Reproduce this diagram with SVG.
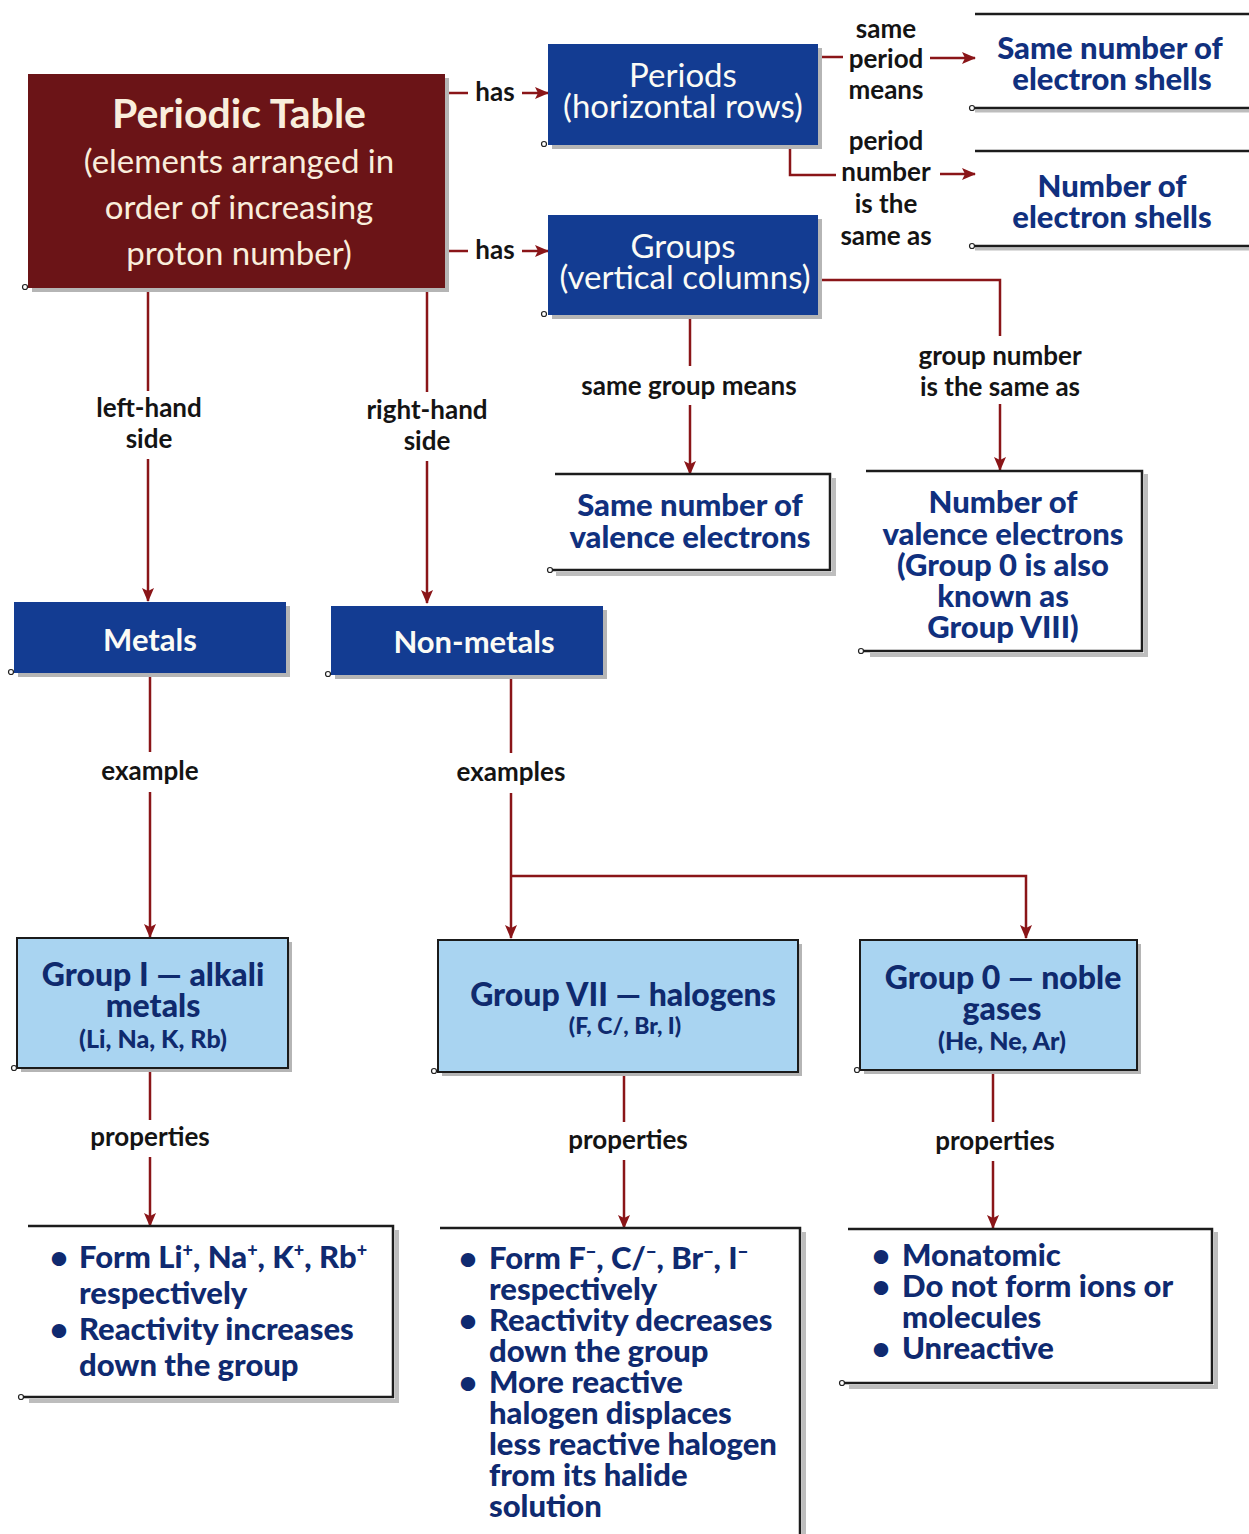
<svg xmlns="http://www.w3.org/2000/svg" width="1249" height="1534" viewBox="0 0 1249 1534">
<defs>
<marker id="arr" markerWidth="14" markerHeight="12" refX="13" refY="6" orient="auto" markerUnits="userSpaceOnUse">
<path d="M0,0 L14,6 L0,12 L3,6 z" fill="#8a1518"/>
</marker>
<style>
.conn{stroke:#8a1518;stroke-width:2.5;fill:none}
.lbl{font-family:Lato,"Open Sans",sans-serif;font-weight:bold;font-size:26px;fill:#141414;text-anchor:middle}
.pt{fill:#6b1417}
.nav{fill:#133c92}
.lb{fill:#a9d4f1;stroke:#1b1b1b;stroke-width:2}
.shadow{fill:#b5b5b5}
.wbl{fill:none;stroke:#1c1c1c;stroke-width:2.5}
.wt{font-family:Lato,"Open Sans",sans-serif;font-weight:900;font-size:31px;fill:#10307e;text-anchor:middle}
.gt{font-family:Lato,"Open Sans",sans-serif;font-weight:900;font-size:32px;fill:#0f2a6e;text-anchor:middle}
.bt{font-family:Lato,"Open Sans",sans-serif;font-weight:900;font-size:31px;fill:#0f2a70}
.ct{font-family:Lato,"Open Sans",sans-serif;font-size:33px;fill:#fbfbf5;text-anchor:middle}
.dot{fill:#fff;stroke:#222;stroke-width:1.2}
</style>
</defs>
<rect width="1249" height="1534" fill="#ffffff"/>

<g id="connectors">
<line class="conn" x1="445" y1="93" x2="468" y2="93"/>
<line class="conn" x1="522" y1="93" x2="548" y2="93" marker-end="url(#arr)"/>
<line class="conn" x1="445" y1="251" x2="468" y2="251"/>
<line class="conn" x1="522" y1="251" x2="548" y2="251" marker-end="url(#arr)"/>
<line class="conn" x1="818" y1="57" x2="843" y2="57"/>
<line class="conn" x1="930" y1="58" x2="975" y2="58" marker-end="url(#arr)"/>
<path class="conn" d="M790,145 L790,175 L836,175"/>
<line class="conn" x1="940" y1="174" x2="975" y2="174" marker-end="url(#arr)"/>
<path class="conn" d="M818,280 L1000,280 L1000,336"/>
<line class="conn" x1="1000" y1="404" x2="1000" y2="470" marker-end="url(#arr)"/>
<line class="conn" x1="690" y1="315" x2="690" y2="366"/>
<line class="conn" x1="690" y1="405" x2="690" y2="474" marker-end="url(#arr)"/>
<line class="conn" x1="148" y1="288" x2="148" y2="391"/>
<line class="conn" x1="148" y1="459" x2="148" y2="601" marker-end="url(#arr)"/>
<line class="conn" x1="427" y1="288" x2="427" y2="392"/>
<line class="conn" x1="427" y1="461" x2="427" y2="603" marker-end="url(#arr)"/>
<line class="conn" x1="150" y1="673" x2="150" y2="752"/>
<line class="conn" x1="150" y1="792" x2="150" y2="937" marker-end="url(#arr)"/>
<line class="conn" x1="511" y1="675" x2="511" y2="753"/>
<line class="conn" x1="511" y1="793" x2="511" y2="938" marker-end="url(#arr)"/>
<path class="conn" d="M511,876 L1026,876 L1026,938" marker-end="url(#arr)"/>
<line class="conn" x1="150" y1="1068" x2="150" y2="1120"/>
<line class="conn" x1="150" y1="1157" x2="150" y2="1226" marker-end="url(#arr)"/>
<line class="conn" x1="624" y1="1072" x2="624" y2="1122"/>
<line class="conn" x1="624" y1="1160" x2="624" y2="1228" marker-end="url(#arr)"/>
<line class="conn" x1="993" y1="1070" x2="993" y2="1122"/>
<line class="conn" x1="993" y1="1161" x2="993" y2="1228" marker-end="url(#arr)"/>
</g>

<g id="labels">
<text class="lbl" x="495" y="101">has</text>
<text class="lbl" x="495" y="259">has</text>
<text class="lbl"><tspan x="886" y="38">same</tspan><tspan x="886" y="68">period</tspan><tspan x="886" y="99">means</tspan></text>
<text class="lbl"><tspan x="886" y="150">period</tspan><tspan x="886" y="181">number</tspan><tspan x="886" y="213">is the</tspan><tspan x="886" y="245">same as</tspan></text>
<text class="lbl"><tspan x="1000" y="365">group number</tspan><tspan x="1000" y="396">is the same as</tspan></text>
<text class="lbl" x="689" y="395">same group means</text>
<text class="lbl"><tspan x="149" y="417">left-hand</tspan><tspan x="149" y="448">side</tspan></text>
<text class="lbl"><tspan x="427" y="419">right-hand</tspan><tspan x="427" y="450">side</tspan></text>
<text class="lbl" x="150" y="780">example</text>
<text class="lbl" x="511" y="781">examples</text>
<text class="lbl" x="150" y="1146">properties</text>
<text class="lbl" x="628" y="1149">properties</text>
<text class="lbl" x="995" y="1150">properties</text>
</g>

<g id="periodic-table">
<rect class="shadow" x="32" y="78" width="417" height="214"/>
<rect class="pt" x="28" y="74" width="417" height="214"/>
<text font-family="Lato,'Open Sans',sans-serif" font-size="33" fill="#f9eedc" text-anchor="middle"><tspan x="239" y="128" font-weight="bold" font-size="41">Periodic Table</tspan><tspan x="239" y="173">(elements arranged in</tspan><tspan x="239" y="219">order of increasing</tspan><tspan x="239" y="265">proton number)</tspan></text>
<circle class="dot" cx="25" cy="287" r="2.5"/>
</g>

<g id="periods">
<rect class="shadow" x="552" y="48" width="270" height="101"/>
<rect class="nav" x="548" y="44" width="270" height="101"/>
<text class="ct"><tspan x="683" y="87">Periods</tspan><tspan x="683" y="118">(horizontal rows)</tspan></text>
<circle class="dot" cx="544" cy="144" r="2.5"/>
</g>

<g id="groups">
<rect class="shadow" x="552" y="219" width="270" height="100"/>
<rect class="nav" x="548" y="215" width="270" height="100"/>
<text class="ct"><tspan x="683" y="258">Groups</tspan><tspan x="685" y="289">(vertical columns)</tspan></text>
<circle class="dot" cx="544" cy="314" r="2.5"/>
</g>

<g id="same-shells">
<line x1="975" y1="111" x2="1249" y2="111" stroke="#bdbdbd" stroke-width="3"/>
<path class="wbl" d="M975,14 L1249,14 M975,108 L1249,108"/>
<text class="wt"><tspan x="1110" y="59">Same number of</tspan><tspan x="1112" y="90">electron shells</tspan></text>
<circle class="dot" cx="972" cy="108" r="2.5"/>
</g>

<g id="num-shells">
<line x1="975" y1="249" x2="1249" y2="249" stroke="#bdbdbd" stroke-width="3"/>
<path class="wbl" d="M975,151 L1249,151 M975,246 L1249,246"/>
<text class="wt"><tspan x="1112" y="197">Number of</tspan><tspan x="1112" y="228">electron shells</tspan></text>
<circle class="dot" cx="972" cy="246" r="2.5"/>
</g>

<g id="same-valence">
<path d="M556,574 L834,574 L834,478" stroke="#bdbdbd" stroke-width="4" fill="none"/>
<path class="wbl" d="M555,474 L830,474 L830,570 L552,570"/>
<text class="wt"><tspan x="690" y="516">Same number of</tspan><tspan x="690" y="548">valence electrons</tspan></text>
<circle class="dot" cx="550" cy="570" r="2.5"/>
</g>

<g id="num-valence">
<path d="M870,655 L1146,655 L1146,474" stroke="#bdbdbd" stroke-width="4" fill="none"/>
<path class="wbl" d="M866,471 L1142,471 L1142,651 L863,651"/>
<text class="wt"><tspan x="1003" y="513">Number of</tspan><tspan x="1003" y="545">valence electrons</tspan><tspan x="1003" y="576">(Group 0 is also</tspan><tspan x="1003" y="607">known as</tspan><tspan x="1003" y="638">Group VIII)</tspan></text>
<circle class="dot" cx="861" cy="651" r="2.5"/>
</g>

<g id="metals">
<rect class="shadow" x="18" y="606" width="272" height="71"/>
<rect class="nav" x="14" y="602" width="272" height="71"/>
<text class="ct" x="150" y="651" style="font-weight:bold;font-size:31px">Metals</text>
<circle class="dot" cx="11" cy="672" r="2.5"/>
</g>

<g id="non-metals">
<rect class="shadow" x="335" y="610" width="272" height="69"/>
<rect class="nav" x="331" y="606" width="272" height="69"/>
<text class="ct" x="474" y="653" style="font-weight:bold;font-size:31px">Non-metals</text>
<circle class="dot" cx="328" cy="674" r="2.5"/>
</g>

<g id="group-1">
<rect class="shadow" x="21" y="942" width="271" height="130"/>
<rect class="lb" x="17" y="938" width="271" height="130"/>
<text class="gt"><tspan x="153" y="986">Group I — alkali</tspan><tspan x="153" y="1017">metals</tspan><tspan x="153" y="1048" font-size="25">(Li, Na, K, Rb)</tspan></text>
<circle class="dot" cx="14" cy="1068" r="2.5"/>
</g>

<g id="group-7">
<rect class="shadow" x="442" y="944" width="360" height="132"/>
<rect class="lb" x="438" y="940" width="360" height="132"/>
<text class="gt"><tspan x="623" y="1006">Group VII — halogens</tspan><tspan x="625" y="1034" font-size="23">(F, C/, Br, I)</tspan></text>
<circle class="dot" cx="434" cy="1071" r="2.5"/>
</g>

<g id="group-0">
<rect class="shadow" x="864" y="944" width="277" height="130"/>
<rect class="lb" x="860" y="940" width="277" height="130"/>
<text class="gt"><tspan x="1003" y="989">Group 0 — noble</tspan><tspan x="1002" y="1020">gases</tspan><tspan x="1002" y="1050" font-size="25">(He, Ne, Ar)</tspan></text>
<circle class="dot" cx="857" cy="1070" r="2.5"/>
</g>

<g id="alkali-properties">
<path d="M29,1401 L397,1401 L397,1230" stroke="#bdbdbd" stroke-width="4" fill="none"/>
<path class="wbl" d="M28,1226 L393,1226 L393,1397 L22,1397"/>
<text class="bt"><tspan x="50" y="1268">•</tspan><tspan x="79">Form Li</tspan><tspan font-size="18" dy="-11">+</tspan><tspan dy="11">, Na</tspan><tspan font-size="18" dy="-11">+</tspan><tspan dy="11">, K</tspan><tspan font-size="18" dy="-11">+</tspan><tspan dy="11">, Rb</tspan><tspan font-size="18" dy="-11">+</tspan><tspan x="79" y="1304">respectively</tspan><tspan x="50" y="1340">•</tspan><tspan x="79">Reactivity increases</tspan><tspan x="79" y="1376">down the group</tspan></text>
<circle class="dot" cx="21" cy="1397" r="2.5"/>
</g>

<g id="halogen-properties">
<path d="M804,1232 L804,1534" stroke="#bdbdbd" stroke-width="4" fill="none"/>
<path class="wbl" d="M440,1228 L800,1228 L800,1534"/>
<text class="bt"><tspan x="459" y="1269">•</tspan><tspan x="489">Form F</tspan><tspan font-size="18" dy="-11">−</tspan><tspan dy="11">, C/</tspan><tspan font-size="18" dy="-11">−</tspan><tspan dy="11">, Br</tspan><tspan font-size="18" dy="-11">−</tspan><tspan dy="11">, I</tspan><tspan font-size="18" dy="-11">−</tspan><tspan x="489" y="1300">respectively</tspan><tspan x="459" y="1331">•</tspan><tspan x="489">Reactivity decreases</tspan><tspan x="489" y="1362">down the group</tspan><tspan x="459" y="1393">•</tspan><tspan x="489">More reactive</tspan><tspan x="489" y="1424">halogen displaces</tspan><tspan x="489" y="1455">less reactive halogen</tspan><tspan x="489" y="1486">from its halide</tspan><tspan x="489" y="1517">solution</tspan></text>
</g>

<g id="noble-properties">
<path d="M849,1387 L1216,1387 L1216,1232" stroke="#bdbdbd" stroke-width="4" fill="none"/>
<path class="wbl" d="M848,1229 L1212,1229 L1212,1383 L843,1383"/>
<text class="bt"><tspan x="872" y="1266">•</tspan><tspan x="902">Monatomic</tspan><tspan x="872" y="1297">•</tspan><tspan x="902">Do not form ions or</tspan><tspan x="902" y="1328">molecules</tspan><tspan x="872" y="1359">•</tspan><tspan x="902">Unreactive</tspan></text>
<circle class="dot" cx="842" cy="1383" r="2.5"/>
</g>
</svg>
